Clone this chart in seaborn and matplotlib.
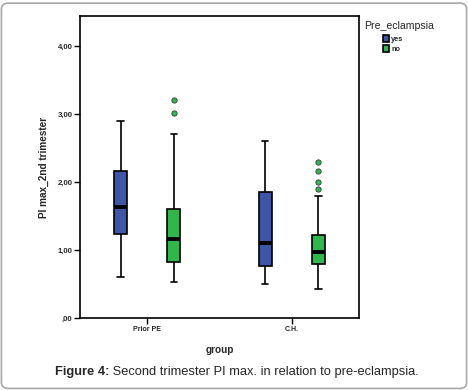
import numpy as np
import pandas as pd
import matplotlib
matplotlib.use('Agg')
import matplotlib.pyplot as plt
import seaborn as sns
from matplotlib.patches import FancyBboxPatch

sns.set_style('white')
plt.rcParams['font.family'] = ['Liberation Sans', 'DejaVu Sans']

# box summaries, order: (Prior PE, yes), (Prior PE, no), (C.H., yes), (C.H., no)
groups = ['Prior PE', 'C.H.']
pe_levels = ['yes', 'no']
box_keys = [('Prior PE', 'yes'), ('Prior PE', 'no'), ('C.H.', 'yes'), ('C.H.', 'no')]
whisker_low = [0.60, 0.525, 0.50, 0.42]
q1 = [1.23, 0.83, 0.765, 0.80]
median = [1.63, 1.16, 1.10, 0.975]
q3 = [2.16, 1.60, 1.85, 1.22]
whisker_high = [2.90, 2.70, 2.60, 1.80]
outliers = [[], [3.01, 3.21], [], [1.90, 2.00, 2.16, 2.29]]

yticks = [0, 1, 2, 3, 4]
ytick_labels = [',00', '1,00', '2,00', '3,00', '4,00']
colors = {'yes': '#3E56A8', 'no': '#2EB84C'}


def sample_from_stats(lo, a, med, b, hi, outs):
    # build a sample whose linear quartiles are exactly a / med / b
    m = len(outs) + 2
    vals = np.empty(4 * m + 1)
    vals[0] = lo
    vals[1:m + 1] = a
    vals[m + 1:2 * m + 1] = med
    vals[2 * m + 1:3 * m + 1] = b
    vals[3 * m + 1:] = hi
    if outs:
        vals[-len(outs):] = outs
    return vals


rows = []
for i, (grp, pe) in enumerate(box_keys):
    v = sample_from_stats(whisker_low[i], q1[i], median[i], q3[i], whisker_high[i], outliers[i])
    for x in v:
        rows.append({'group': grp, 'Pre_eclampsia': pe, 'value': x})
df = pd.DataFrame(rows)

fig = plt.figure(figsize=(4.68, 3.9), dpi=100)
ax = fig.add_axes([80 / 468, 1 - 318 / 390, 279 / 468, 302 / 390])

sns.boxplot(data=df, x='group', y='value', hue='Pre_eclampsia', order=groups, hue_order=pe_levels,
            palette=colors, saturation=1, width=0.736, gap=0.755, linewidth=1.2, linecolor='black',
            medianprops=dict(color='black', linewidth=2.8),
            flierprops=dict(marker='o', markerfacecolor=colors['no'], markeredgecolor='#3a3a3a',
                            markeredgewidth=0.6),
            fliersize=3.8, ax=ax)

ax.set_xlim(-0.465, 1.465)
ax.set_ylim(0, 4.44)
ax.set_yticks(yticks)
ax.set_yticklabels(ytick_labels)
for lab in ax.get_yticklabels():
    lab.set_fontweight('bold')
    lab.set_fontsize(5.6)
for lab in ax.get_xticklabels():
    lab.set_fontweight('bold')
    lab.set_fontsize(5.0)
ax.tick_params(axis='both', length=4, width=1, color='black', direction='out', pad=1.5)
ax.tick_params(axis='y', left=True)
ax.tick_params(axis='x', bottom=True)
for s in ax.spines.values():
    s.set_color('black')
    s.set_linewidth(1.2)

ax.set_xlabel('group', fontsize=7.2, fontweight='bold', labelpad=9)
ax.set_ylabel('PI max_2nd trimester', fontsize=7.2, fontweight='bold', labelpad=6)

# legend outside on the right
handles, labels = ax.get_legend_handles_labels()
ax.legend_.remove()
fig.text(364 / 468, 1 - 26 / 390, 'Pre_eclampsia', fontsize=7.6, va='center', ha='left')
leg = fig.legend(handles, labels, loc='upper left', bbox_to_anchor=(383 / 468, 1 - 35 / 390),
                 frameon=False, fontsize=5.3, handlelength=0.85, handleheight=1.0,
                 handletextpad=0.25, labelspacing=0.3, borderpad=0, borderaxespad=0)
for t in leg.get_texts():
    t.set_fontweight('bold')

# caption: bold prefix + regular text
fig.canvas.draw()
renderer = fig.canvas.get_renderer()
t1 = fig.text(0, 1 - 372 / 390, 'Figure 4:', fontsize=9.3, fontweight='bold', va='center', ha='left')
t2 = fig.text(0, 1 - 372 / 390, ' Second trimester PI max. in relation to pre-eclampsia.',
              fontsize=9.3, va='center', ha='left')
w1 = t1.get_window_extent(renderer).width
w2 = t2.get_window_extent(renderer).width
x0 = (237 - (w1 + w2) / 2) / 468
t1.set_x(x0)
t2.set_x(x0 + w1 / 468)

fig.patches.append(FancyBboxPatch((0.003, 0.004), 0.994, 0.988,
                                  boxstyle='round,pad=0,rounding_size=0.015',
                                  transform=fig.transFigure, fc='none', ec='#a8a8a8', lw=1.2))

fig.savefig('out.png', dpi=100)
